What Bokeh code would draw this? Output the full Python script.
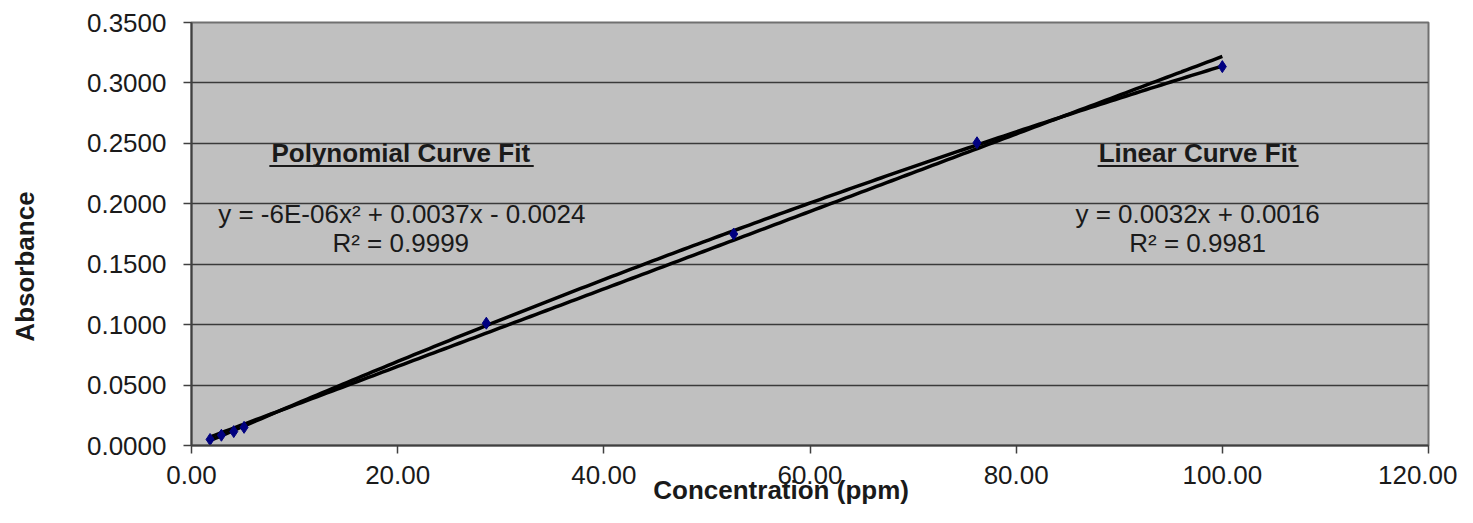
import numpy as np
from bokeh.plotting import figure
from bokeh.models import FixedTicker, NumeralTickFormatter, Label, ColumnDataSource
from bokeh.embed import file_html
from bokeh.resources import INLINE

# Data
conc = [1.8, 2.9, 4.1, 5.1, 28.6, 52.6, 76.2, 100.0]
absorb = [0.0050, 0.0085, 0.0115, 0.0150, 0.1012, 0.1750, 0.2505, 0.3135]

x_ticks = [0, 20, 40, 60, 80, 100, 120]
y_ticks = [0.0, 0.05, 0.10, 0.15, 0.20, 0.25, 0.30, 0.35]

poly_title = "Polynomial Curve Fit"
poly_eq = "y = -6E-06x\u00b2 + 0.0037x - 0.0024"
poly_r2 = "R\u00b2 = 0.9999"
lin_title = "Linear Curve Fit"
lin_eq = "y = 0.0032x + 0.0016"
lin_r2 = "R\u00b2 = 0.9981"
x_title = "Concentration (ppm)"
y_title = "Absorbance"

FONT = "Liberation Sans"
TXT = "#1a1a1a"
FS = "26px"
NB = "\u00a0"

p = figure(width=1457, height=507, x_range=(0, 120), y_range=(0, 0.35),
           output_backend="svg", toolbar_location=None,
           min_border_left=191, min_border_right=29,
           min_border_top=22, min_border_bottom=61)
p.background_fill_color = "#c0c0c0"
p.border_fill_color = "white"
p.outline_line_color = "#707070"
p.outline_line_width = 2

p.xgrid.visible = False
p.ygrid.grid_line_color = "#3a3a3a"
p.ygrid.grid_line_width = 1.6
p.ygrid.ticker = FixedTicker(ticks=y_ticks)

for ax in (p.xaxis[0], p.yaxis[0]):
    ax.axis_line_color = "#404040"
    ax.axis_line_width = 2
    ax.major_tick_line_color = "#404040"
    ax.major_tick_line_width = 1.5
    ax.major_tick_out = 8
    ax.major_tick_in = 0
    ax.minor_tick_out = 0
    ax.minor_tick_in = 0
    ax.major_label_text_font = FONT
    ax.major_label_text_font_size = FS
    ax.major_label_text_color = TXT
    ax.axis_label_text_font = FONT
    ax.axis_label_text_font_size = FS
    ax.axis_label_text_font_style = "bold"
    ax.axis_label_text_color = TXT

p.xaxis.ticker = FixedTicker(ticks=x_ticks)
p.xaxis.formatter = NumeralTickFormatter(format="0.00")
p.xaxis.major_label_standoff = 12
p.xaxis.axis_label = x_title + NB * 8
p.xaxis.axis_label_standoff = -12

p.yaxis.ticker = FixedTicker(ticks=y_ticks)
p.yaxis.formatter = NumeralTickFormatter(format="0.0000")
p.yaxis.major_label_standoff = 17
p.yaxis.axis_label = y_title + NB * 9
p.yaxis.axis_label_standoff = 44

# Trendlines fitted from the data
xs = np.array(conc)
ys = np.array(absorb)
lin = np.polyfit(xs, ys, 1)
quad = np.polyfit(xs, ys, 2)
xf = np.linspace(xs.min(), xs.max(), 200)
p.line(xf, np.polyval(lin, xf), line_color="black", line_width=3.5)
p.line(xf, np.polyval(quad, xf), line_color="black", line_width=3.5)

src = ColumnDataSource(dict(x=conc, y=absorb))
p.scatter("x", "y", source=src, marker="diamond", size=12,
          fill_color="#000080", line_color="#000080")

def lab(x, y, text, bold=False):
    p.add_layout(Label(x=x, y=y, text=text, text_font=FONT,
                       text_font_size=FS,
                       text_font_style="bold" if bold else "normal",
                       text_color=TXT, text_align="center",
                       text_baseline="middle"))

lab(20.3, 0.2417, poly_title, bold=True)
lab(20.4, 0.1914, poly_eq)
lab(20.3, 0.1679, poly_r2)
lab(97.6, 0.2417, lin_title, bold=True)
lab(97.6, 0.1914, lin_eq)
lab(97.6, 0.1679, lin_r2)

# underlines for the fit titles
p.segment(x0=[7.55, 87.9], y0=[0.2312, 0.2312], x1=[33.2, 107.4], y1=[0.2312, 0.2312],
          line_color="#1a1a1a", line_width=2)

open("out.html", "w").write(file_html(p, INLINE))
